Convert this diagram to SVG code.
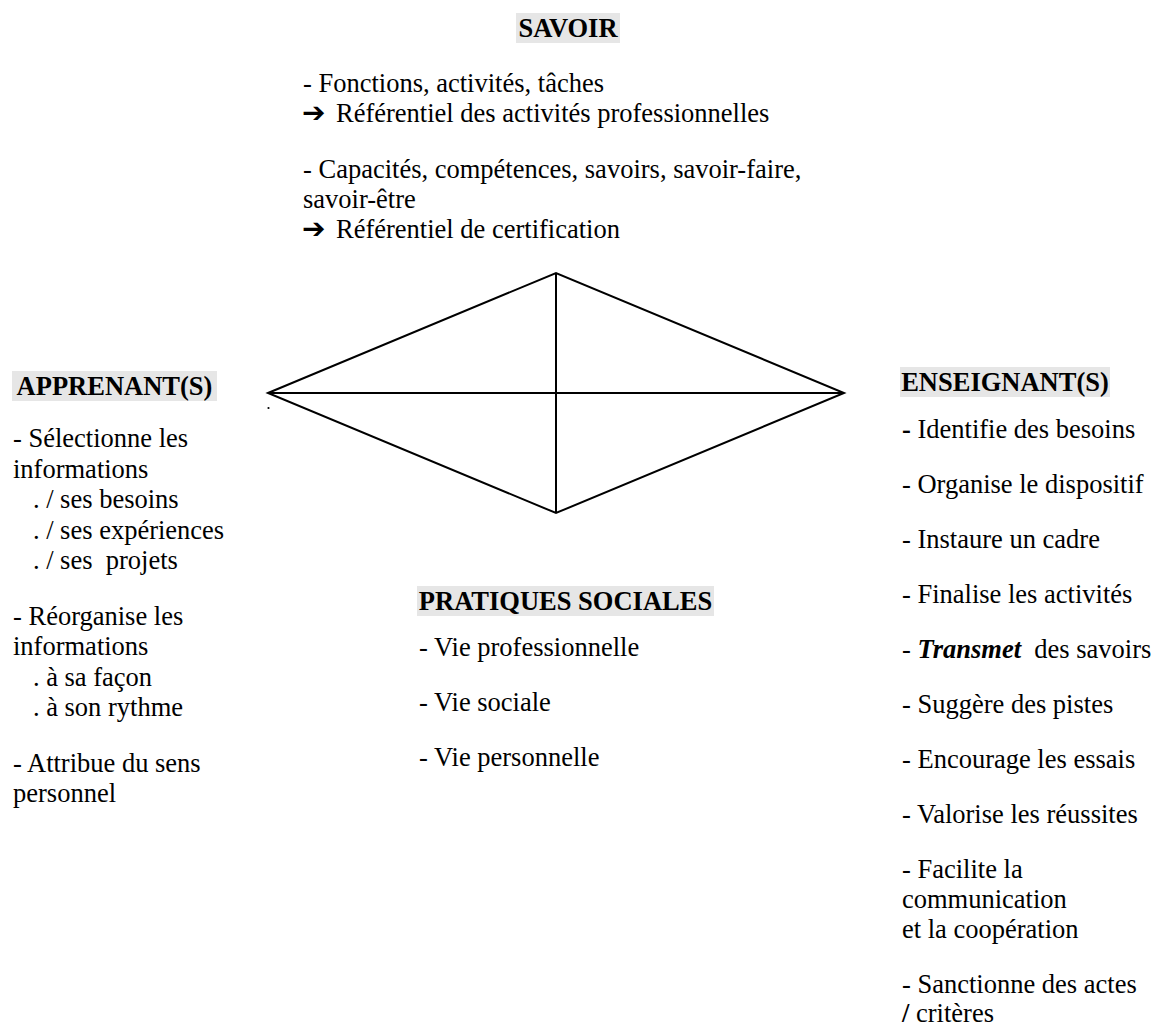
<svg xmlns="http://www.w3.org/2000/svg" width="1154" height="1033" viewBox="0 0 1154 1033">
<style>
text{font-family:"Liberation Serif","Times New Roman",serif;font-size:26.5px;fill:#000;white-space:pre}
.h{font-weight:bold}
.hb{fill:#e6e6e6}
.ar{font-family:"DejaVu Sans",sans-serif;font-weight:bold;font-size:28px}
.edge{stroke:#000;stroke-width:2;fill:none}
</style>
<rect width="1154" height="1033" fill="#fff"/>
<g id="connectors">
<polygon class="edge" points="268,393 556,273 844,393 556,513"/>
<line class="edge" x1="268" y1="393" x2="844" y2="393"/>
<line class="edge" x1="556" y1="273" x2="556" y2="513"/>
<circle cx="268.5" cy="408" r="1.1" fill="#000"/>
</g>
<g id="savoir">
<rect class="hb" x="516" y="13" width="104" height="30"/>
<text class="h" x="568" y="37" text-anchor="middle">SAVOIR</text>
<text x="303" y="92">- Fonctions, activités, tâches</text>
<text x="302" y="122"><tspan class="ar">➔</tspan><tspan x="336">Référentiel des activités professionnelles</tspan></text>
<text x="303" y="178">- Capacités, compétences, savoirs, savoir-faire,</text>
<text x="303" y="208">savoir-être</text>
<text x="302" y="238"><tspan class="ar">➔</tspan><tspan x="336">Référentiel de certification</tspan></text>
</g>
<g id="apprenants">
<rect class="hb" x="12" y="371" width="205" height="30"/>
<text class="h" x="114.5" y="395" text-anchor="middle">APPRENANT(S)</text>
<text x="13" y="447">- Sélectionne les</text>
<text x="13" y="478">informations</text>
<text x="13" y="508">   . / ses besoins</text>
<text x="13" y="539">   . / ses expériences</text>
<text x="13" y="569">   . / ses  projets</text>
<text x="13" y="625">- Réorganise les</text>
<text x="13" y="655">informations</text>
<text x="13" y="686">   . à sa façon</text>
<text x="13" y="716">   . à son rythme</text>
<text x="13" y="772">- Attribue du sens</text>
<text x="13" y="802">personnel</text>
</g>
<g id="enseignants">
<rect class="hb" x="900" y="367" width="210" height="30"/>
<text class="h" x="1005" y="391" text-anchor="middle">ENSEIGNANT(S)</text>
<text x="902" y="438"><tspan class="h">-</tspan> Identifie des besoins</text>
<text x="902" y="493">- Organise le dispositif</text>
<text x="902" y="548">- Instaure un cadre</text>
<text x="902" y="603">- Finalise les activités</text>
<text x="902" y="658">- <tspan class="h" font-style="italic">Transmet</tspan>  des savoirs</text>
<text x="902" y="713">- Suggère des pistes</text>
<text x="902" y="768">- Encourage les essais</text>
<text x="902" y="823">- Valorise les réussites</text>
<text x="902" y="878">- Facilite la</text>
<text x="902" y="908">communication</text>
<text x="902" y="938">et la coopération</text>
<text x="902" y="993">- Sanctionne des actes</text>
<text x="902" y="1022"><tspan class="h">/</tspan> critères</text>
</g>
<g id="pratiques">
<rect class="hb" x="417" y="586" width="297" height="30"/>
<text class="h" x="565.5" y="610" text-anchor="middle">PRATIQUES SOCIALES</text>
<text x="419" y="656">- Vie professionnelle</text>
<text x="419" y="711">- Vie sociale</text>
<text x="419" y="766">- Vie personnelle</text>
</g>
</svg>
